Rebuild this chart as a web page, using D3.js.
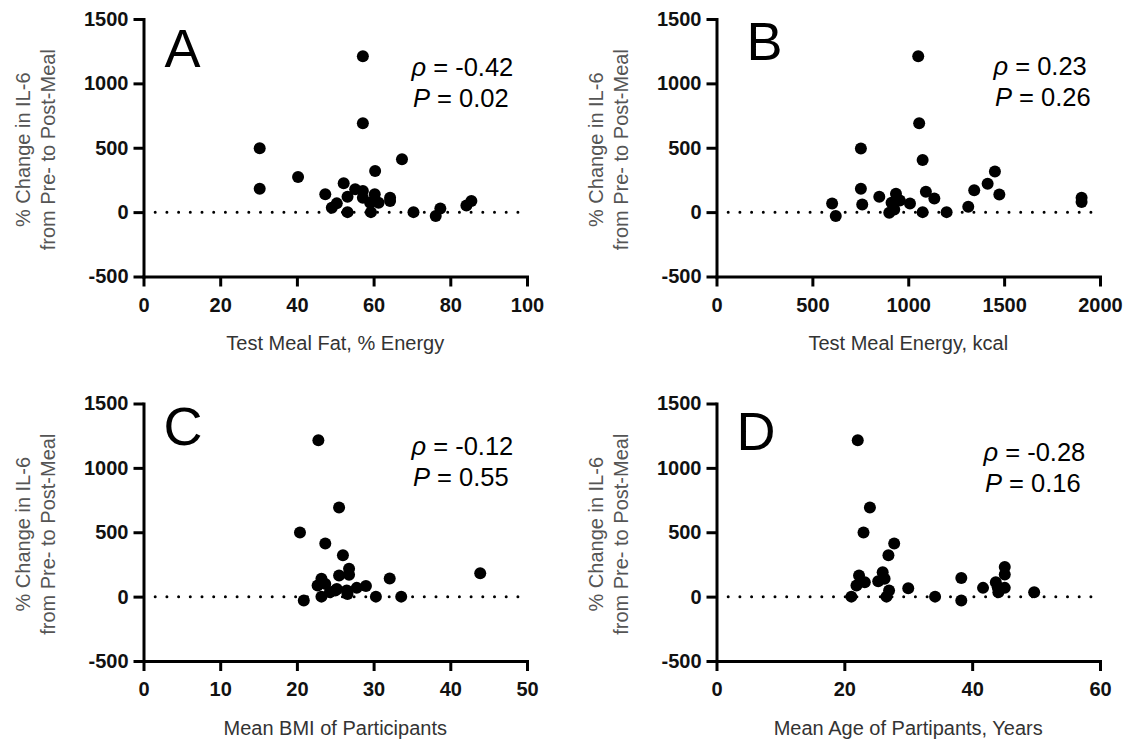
<!DOCTYPE html>
<html>
<head>
<meta charset="utf-8">
<script src="https://cdn.jsdelivr.net/npm/d3@7"></script>
<style>
  html, body { margin: 0; padding: 0; background: #fff; }
  svg { display: block; font-family: "Liberation Sans", Arial, sans-serif; }
</style>
</head>
<body>
<svg id="chart" width="1128" height="740"></svg>
<script>
// Percent change in IL-6 (pre- to post-meal) against four study characteristics

// A: test meal fat (% energy)
const fatPct = [57.2, 57.2, 30.3, 30.3, 40.3, 67.4, 60.4, 47.4, 52.2, 53.2, 55.2, 57.2, 57.2, 60.3, 61.3, 59.1, 64.3, 64.3, 50.4, 49.1, 53.2, 59.3, 70.4, 77.4, 76.2, 84.2, 85.5];
const il6ByFat = [1211, 691, 496, 182, 273, 411, 320, 138, 224, 120, 177, 164, 112, 138, 73, 73, 112, 86, 68, 34, 0, 0, 0, 29, -31, 52, 86];

// B: test meal energy (kcal)
const energyKcal = [1052, 1057, 753, 1075, 1452, 1414, 1344, 1475, 753, 760, 849, 936, 956, 913, 1009, 927, 901, 1092, 1136, 1075, 1200, 1313, 603, 622, 1904, 1904];
const il6ByEnergy = [1210, 690, 495, 405, 315, 220, 170, 137, 181, 60, 119, 142, 91, 72, 67, 21, -5, 158, 106, 0, 0, 41, 67, -31, 111, 78];

// C: mean BMI of participants
const bmi = [22.8, 25.5, 20.4, 23.7, 26.0, 43.9, 32.1, 26.8, 26.8, 25.5, 23.2, 22.7, 23.7, 29.0, 27.8, 26.5, 25.2, 24.3, 23.2, 20.9, 30.3, 33.6, 26.6, 25.0];
const il6ByBmi = [1214, 693, 498, 412, 321, 182, 141, 216, 169, 164, 138, 86, 99, 83, 68, 47, 60, 34, 0, -31, 0, 0, 21, 47];

// D: mean age of participants (years)
const ageYears = [22.1, 24.0, 23.0, 27.8, 26.9, 22.3, 26.0, 26.3, 25.3, 23.2, 21.9, 27.0, 26.6, 21.1, 30.0, 34.2, 38.3, 38.3, 41.7, 43.7, 45.1, 45.1, 45.1, 44.1, 49.7, 44.0];
const il6ByAge = [1214, 693, 498, 412, 321, 164, 190, 138, 120, 112, 86, 47, 0, 0, 65, 0, 144, -31, 68, 112, 230, 172, 68, 34, 34, 73];

// Axis ranges and tick values
const yDomain = [-500, 1500];
const yTicks = [-500, 0, 500, 1000, 1500];
const xDomains = { A: [0, 100], B: [0, 2000], C: [0, 50], D: [0, 60] };
const xTicks = {
  A: [0, 20, 40, 60, 80, 100],
  B: [0, 500, 1000, 1500, 2000],
  C: [0, 10, 20, 30, 40, 50],
  D: [0, 20, 40, 60]
};

// Labels
const panelLetters = ["A", "B", "C", "D"];
const xTitles = ["Test Meal Fat, % Energy", "Test Meal Energy, kcal", "Mean BMI of Participants", "Mean Age of Partipants, Years"];
const yTitleLines = ["% Change in IL-6", "from Pre- to Post-Meal"];
const rhoText = ["-0.42", "0.23", "-0.12", "-0.28"];
const pText = ["0.02", "0.26", "0.55", "0.16"];

const xsList = [fatPct, energyKcal, bmi, ageYears];
const ysList = [il6ByFat, il6ByEnergy, il6ByBmi, il6ByAge];

// Panel frames
const frames = [
  { left: 143.5, top: 19,    letterDx: 21,  letterDy: 48, statDx: 268, statDy: 57 },
  { left: 716.5, top: 19,    letterDx: 30,  letterDy: 41, statDx: 277, statDy: 56 },
  { left: 143.5, top: 403.5, letterDx: 20,  letterDy: 41.5, statDx: 268, statDy: 51.5 },
  { left: 716.5, top: 403.5, letterDx: 20,  letterDy: 46.5, statDx: 267, statDy: 57 }
];
const plotW = 383.5, plotH = 257.5;

const svg = d3.select("#chart");

frames.forEach((f, i) => {
  const key = panelLetters[i];
  const g = svg.append("g").attr("transform", `translate(${f.left},${f.top})`);

  const x = d3.scaleLinear().domain(xDomains[key]).range([0, plotW]);
  const y = d3.scaleLinear().domain(yDomain).range([plotH, 0]);

  // zero reference line (dotted)
  g.append("line")
    .attr("x1", 11.7).attr("x2", plotW)
    .attr("y1", y(0)).attr("y2", y(0))
    .attr("stroke", "#000")
    .attr("stroke-width", 3)
    .attr("stroke-linecap", "round")
    .attr("stroke-dasharray", "0 11.7");

  // axes
  const yAxis = d3.axisLeft(y).tickValues(yTicks).tickSize(10).tickSizeOuter(0).tickPadding(5).tickFormat(d => String(d));
  const xAxis = d3.axisBottom(x).tickValues(xTicks[key]).tickSize(10).tickSizeOuter(0).tickPadding(11).tickFormat(d => String(d));

  const gx = g.append("g").attr("transform", `translate(0,${plotH})`).call(xAxis);
  const gy = g.append("g").call(yAxis);
  [gx, gy].forEach(ax => {
    ax.select(".domain").attr("stroke", "#000").attr("stroke-width", 3).attr("stroke-linecap", "square");
    ax.selectAll(".tick line").attr("stroke", "#000").attr("stroke-width", 3);
    ax.selectAll(".tick text")
      .attr("fill", "#111")
      .attr("font-family", "Liberation Sans, Arial, sans-serif")
      .attr("font-size", 20)
      .attr("font-weight", "bold");
  });

  // points
  const pts = xsList[i].map((v, j) => [v, ysList[i][j]]);
  g.append("g").selectAll("circle")
    .data(pts)
    .join("circle")
    .attr("cx", d => x(d[0]))
    .attr("cy", d => y(d[1]))
    .attr("r", 6)
    .attr("fill", "#000");

  // x title
  g.append("text")
    .attr("x", plotW / 2)
    .attr("y", plotH + 73.5)
    .attr("text-anchor", "middle")
    .attr("font-size", 20)
    .attr("fill", "#333")
    .text(xTitles[i]);

  // y title (two lines)
  const yt = g.append("g").attr("transform", `translate(0,${plotH / 2 + 2}) rotate(-90)`);
  yt.append("text").attr("x", 0).attr("y", -114).attr("text-anchor", "middle")
    .attr("font-size", 20).attr("fill", "#555").text(yTitleLines[0]);
  yt.append("text").attr("x", 0).attr("y", -89).attr("text-anchor", "middle")
    .attr("font-size", 20).attr("fill", "#555").text(yTitleLines[1]);

  // panel letter
  g.append("text")
    .attr("x", f.letterDx).attr("y", f.letterDy)
    .attr("font-size", 54)
    .attr("fill", "#000")
    .text(panelLetters[i]);

  // correlation statistics
  const s1 = g.append("text").attr("x", f.statDx).attr("y", f.statDy).attr("font-size", 25.5).attr("fill", "#000");
  s1.append("tspan").attr("font-style", "italic").text("ρ");
  s1.append("tspan").text(" = " + rhoText[i]);
  const s2 = g.append("text").attr("x", f.statDx + 1.5).attr("y", f.statDy + 31).attr("font-size", 25.5).attr("fill", "#000");
  s2.append("tspan").attr("font-style", "italic").text("P");
  s2.append("tspan").text(" = " + pText[i]);
});
</script>
</body>
</html>
